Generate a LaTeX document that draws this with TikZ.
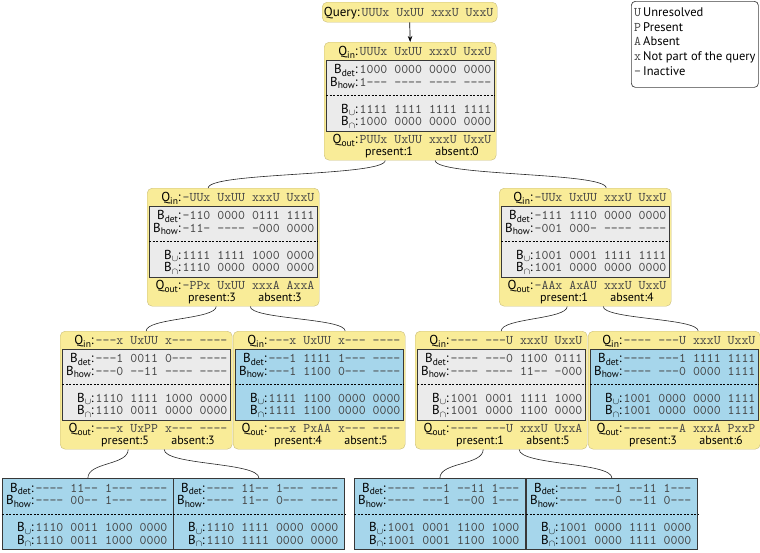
\documentclass[tikz,border=0pt]{standalone}
\usepackage{fontspec}
\setmainfont{PT Sans}
\setmonofont{lmmono10-regular.otf}[Ligatures=TeXOff]
\usetikzlibrary{positioning, arrows.meta}

\definecolor{qyellow}{HTML}{F9EC98}
\definecolor{qyellowline}{HTML}{C9BD7C}
\definecolor{bgrey}{HTML}{EBEBEB}
\definecolor{bblue}{HTML}{A6D6EB}
\definecolor{bitgrey}{HTML}{454545}
\definecolor{boxline}{HTML}{383838}

% subscript of the row labels
\newcommand{\lsub}[1]{\raisebox{-2.6pt}{\fontsize{9.5}{9.5}\selectfont #1}}

% yellow band: name, corner, Q_in, Q_out, present, absent
\newcommand{\summary}[6]{%
    \node[band, anchor=north west] (#1) at (#2) {};
    \node[lbl] at ([xshift=34pt,yshift=-13.5pt]#1.north west) {Q\lsub{in}:};
    \node[bits] at ([xshift=35.5pt,yshift=-13.5pt]#1.north west) {#3};
    \node[lbl] at ([xshift=34pt,yshift=16.5pt]#1.south west) {Q\lsub{out}:};
    \node[bits] at ([xshift=35.5pt,yshift=16.5pt]#1.south west) {#4};
    \node[cnt] at ([xshift=65pt,yshift=4.5pt]#1.south west) {present:#5};
    \node[cnt] at ([xshift=133pt,yshift=4.5pt]#1.south west) {absent:#6};
}

% bit box: name, fill, corner, width, B_det, B_how, B_cup, B_cap
\newcommand{\bitbox}[8]{%
    \node[bitframe, fill=#2, minimum width=#4, anchor=north west] (#1) at (#3) {};
    \draw[sep] (#1.west) -- (#1.east);
    \node[lbl] at ([xshift=32pt,yshift=-14pt]#1.north west) {B\lsub{det}:};
    \node[bits] at ([xshift=33.5pt,yshift=-14pt]#1.north west) {#5};
    \node[lbl] at ([xshift=32pt,yshift=-26.5pt]#1.north west) {B\lsub{how}:};
    \node[bits] at ([xshift=33.5pt,yshift=-26.5pt]#1.north west) {#6};
    \node[lbl] at ([xshift=32pt,yshift=-53.5pt]#1.north west) {B\lsub{$\cup$}:};
    \node[bits] at ([xshift=33.5pt,yshift=-53.5pt]#1.north west) {#7};
    \node[lbl] at ([xshift=32pt,yshift=-66pt]#1.north west) {B\lsub{$\cap$}:};
    \node[bits] at ([xshift=33.5pt,yshift=-66pt]#1.north west) {#8};
}

\begin{document}
\begin{tikzpicture}[
                x=1pt, y=-1pt,
                band/.style={draw=qyellowline, fill=qyellow, rounded corners=5pt, inner sep=0pt,
                        minimum width=172pt, minimum height=118pt},
                qbox/.style={band, minimum width=175pt, minimum height=20pt},
                bitframe/.style={draw=boxline, line width=0.8pt, inner sep=0pt, minimum height=71pt},
                sep/.style={draw=black, line width=0.6pt, dash pattern=on 2pt off 1.5pt},
                lbl/.style={anchor=base east, inner sep=0pt, font=\fontsize{13}{13}\selectfont},
                bits/.style={anchor=base west, inner sep=0pt, text=bitgrey, font=\ttfamily\fontsize{13.2}{13}\selectfont},
                cnt/.style={anchor=base, inner sep=0pt, font=\fontsize{12}{12}\selectfont},
                legtxt/.style={anchor=base west, inner sep=0pt, font=\fontsize{12.5}{12.5}\selectfont},
                legendframe/.style={draw=black!75, line width=0.7pt, rounded corners=4pt, inner sep=0pt,
                        minimum width=127pt, minimum height=86pt},
                link/.style={draw=black!85, line width=0.6pt}
            ]
            \useasboundingbox (0,0) rectangle (760,552);

            % query
            \node[qbox, anchor=north west] (query) at (322,2) {};
            \node[lbl] at ([xshift=38pt,yshift=-14.5pt]query.north west) {Query:};
            \node[bits] at ([xshift=39.5pt,yshift=-14.5pt]query.north west) {UUUx UxUU xxxU UxxU};

            % legend
            \node[legendframe, anchor=north west] (legend) at (631,1) {};
            \foreach \sym/\txt [count=\i from 0] in {U/Unresolved, P/Present, A/Absent, x/Not part of the query, -/Inactive} {
                \node[bits] at (634,16.2+14.8*\i) {\sym};
                \node[legtxt] at (643,16.2+14.8*\i) {\txt};
            }

            % root
            \summary{root}{324,42}{UUUx UxUU xxxU UxxU}{PUUx UxUU xxxU UxxU}{1}{0}
            \bitbox{root-b}{bgrey}{[xshift=2pt,yshift=-17.5pt]root.north west}{168pt}
                {1000 0000 0000 0000}{1--- ---- ---- ----}{1111 1111 1111 1111}{1000 0000 0000 0000}

            % second level
            \summary{lvA}{147,188}{-UUx UxUU xxxU UxxU}{-PPx UxUU xxxA AxxA}{3}{3}
            \bitbox{lvA-b}{bgrey}{[xshift=2pt,yshift=-17.5pt]lvA.north west}{168pt}
                {-110 0000 0111 1111}{-11- ---- -000 0000}{1111 1111 1000 0000}{1110 0000 0000 0000}
            \summary{lvB}{499,188}{-UUx UxUU xxxU UxxU}{-AAx AxAU xxxU UxxU}{1}{4}
            \bitbox{lvB-b}{bgrey}{[xshift=2pt,yshift=-17.5pt]lvB.north west}{168pt}
                {-111 1110 0000 0000}{-001 000- ---- ----}{1001 0001 1111 1111}{1001 0000 0000 0000}

            % third level
            \summary{lvAa}{60,331}{---x UxUU x--- ----}{---x UxPP x--- ----}{5}{3}
            \bitbox{lvAa-b}{bgrey}{[xshift=2pt,yshift=-17.5pt]lvAa.north west}{168pt}
                {---1 0011 0--- ----}{---0 --11 ---- ----}{1110 1111 1000 0000}{1110 0011 0000 0000}
            \summary{lvAb}{233,331}{---x UxUU x--- ----}{---x PxAA x--- ----}{4}{5}
            \bitbox{lvAb-b}{bblue}{[xshift=2pt,yshift=-17.5pt]lvAb.north west}{168pt}
                {---1 1111 1--- ----}{---1 1100 0--- ----}{1111 1100 0000 0000}{1111 1100 0000 0000}
            \summary{lvBa}{415,331}{---- ---U xxxU UxxU}{---- ---U xxxU UxxA}{1}{5}
            \bitbox{lvBa-b}{bgrey}{[xshift=2pt,yshift=-17.5pt]lvBa.north west}{168pt}
                {---- ---0 1100 0111}{---- ---- 11-- -000}{1001 0001 1111 1000}{1001 0000 1100 0000}
            \summary{lvBb}{588,331}{---- ---U xxxU UxxU}{---- ---A xxxA PxxP}{3}{6}
            \bitbox{lvBb-b}{bblue}{[xshift=2pt,yshift=-17.5pt]lvBb.north west}{168pt}
                {---- ---1 1111 1111}{---- ---0 0000 1111}{1001 0000 0000 1111}{1001 0000 0000 1111}

            % leaves
            \bitbox{leafA}{bblue}{2,478}{171pt}
                {---- 11-- 1--- ----}{---- 00-- 1--- ----}{1110 0011 1000 0000}{1110 0011 1000 0000}
            \bitbox{leafB}{bblue}{173,478}{171pt}
                {---- 11-- 1--- ----}{---- 11-- 0--- ----}{1110 1111 0000 0000}{1110 1111 0000 0000}
            \bitbox{leafC}{bblue}{354,478}{171pt}
                {---- ---1 --11 1---}{---- ---1 --00 1---}{1001 0001 1100 1000}{1001 0001 1100 1000}
            \bitbox{leafD}{bblue}{526,478}{171pt}
                {---- ---1 --11 1---}{---- ---0 --11 0---}{1001 0000 1111 0000}{1001 0000 1111 0000}

            % connectors
            \draw[-{Stealth[length=6pt,width=4.5pt]}, line width=0.7pt] (query.south) -- (root.north);
            \draw[link] ([xshift=-25pt]root.south) .. controls +(0,16) and +(0,-16) .. ([xshift=-25pt]lvA.north);
            \draw[link] ([xshift=25pt]root.south) .. controls +(0,16) and +(0,-16) .. ([xshift=21pt]lvB.north);
            \draw[link] ([xshift=-17pt]lvA.south) .. controls +(0,13) and +(0,-13) .. (lvAa.north);
            \draw[link] ([xshift=17pt]lvA.south) .. controls +(0,13) and +(0,-13) .. ([xshift=26pt]lvAb.north);
            \draw[link] ([xshift=-18pt]lvB.south) .. controls +(0,13) and +(0,-13) .. (lvBa.north);
            \draw[link] ([xshift=18pt]lvB.south) .. controls +(0,13) and +(0,-13) .. ([xshift=24pt]lvBb.north);
            \draw[link] ([xshift=-18pt]lvAa.south) .. controls +(0,16) and +(0,-16) .. (leafA.north);
            \draw[link] ([xshift=18pt]lvAa.south) .. controls +(0,16) and +(0,-16) .. (leafB.north);
            \draw[link] ([xshift=-18pt]lvBa.south) .. controls +(0,16) and +(0,-16) .. (leafC.north);
            \draw[link] ([xshift=18pt]lvBa.south) .. controls +(0,16) and +(0,-16) .. (leafD.north);
        \end{tikzpicture}
\end{document}
